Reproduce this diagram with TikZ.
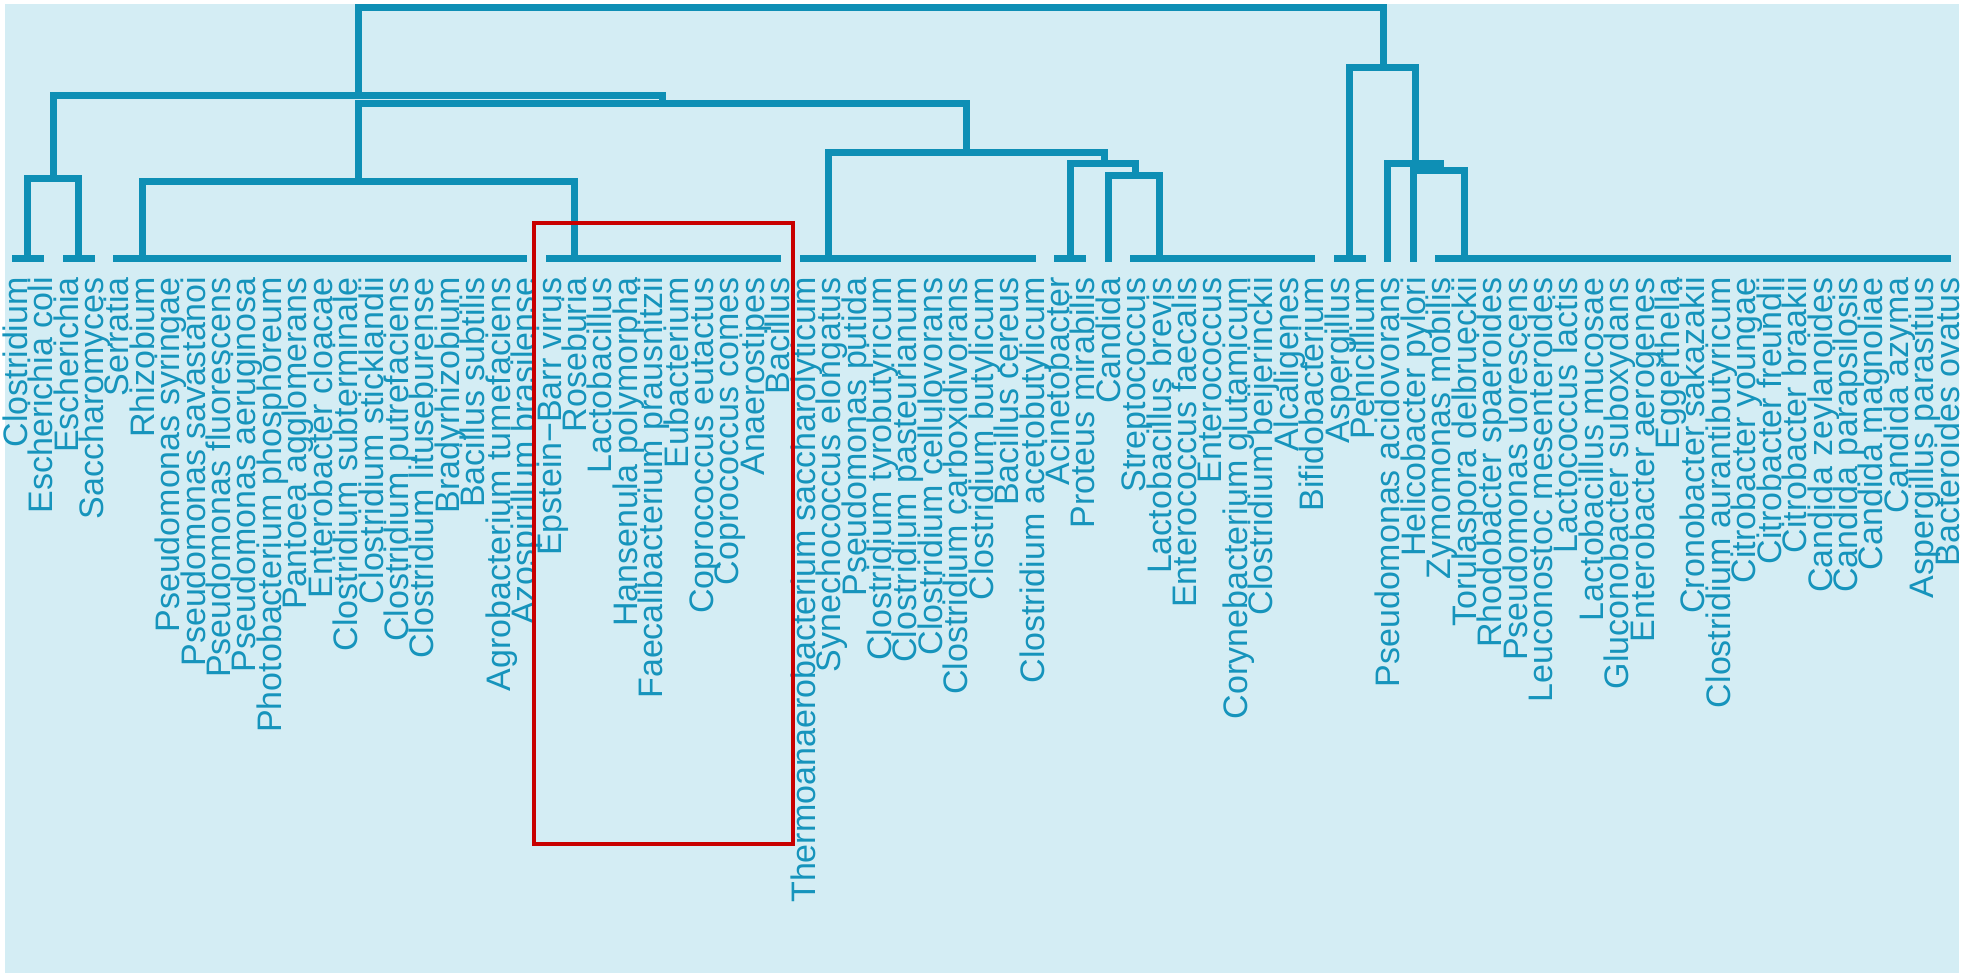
\documentclass[tikz,border=0pt]{standalone}
\usepackage{fontspec}
\setmainfont{Liberation Sans}
\usetikzlibrary{calc}
\definecolor{dendro}{RGB}{14,143,181}
\definecolor{dendrotext}{RGB}{22,148,188}
\definecolor{panel}{RGB}{212,237,244}
\definecolor{boxred}{RGB}{200,0,0}
\tikzset{
  branch/.style={draw=dendro, line width=7pt, line cap=rect, line join=miter},
  taxon/.style={rotate=90, anchor=east, inner sep=0pt, text height=24pt, text depth=0pt,
    text=dendrotext, font=\fontsize{34}{34}\selectfont},
}
\begin{document}
\begin{tikzpicture}[x=1pt, y=-1pt]
\useasboundingbox (0,0) rectangle (1969,975);
\fill[panel] (5,4) rectangle (1959,973);

% leaves on the base line
\foreach \i in {0,...,76}
  \coordinate (L\i) at ({15.2+25.42*\i},258);

% leaf labels
\foreach \taxname [count=\i from 0] in {Clostridium, Escherichia coli, Escherichia, Saccharomyces,
  Serratia, Rhizobium, Pseudomonas syringae, Pseudomonas savastanoi, Pseudomonas fluorescens,
  Pseudomonas aeruginosa, Photobacterium phosphoreum, Pantoea agglomerans, Enterobacter cloacae,
  Clostridium subterminale, Clostridium sticklandii, Clostridium putrefaciens,
  Clostridium lituseburense, Bradyrhizobium, Bacillus subtilis, Agrobacterium tumefaciens,
  Azospirillum brasilense, Epstein−Barr virus, Roseburia, Lactobacillus, Hansenula polymorpha,
  Faecalibacterium prausnitzii, Eubacterium, Coprococcus eutactus, Coprococcus comes,
  Anaerostipes, Bacillus, Thermoanaerobacterium saccharolyticum, Synechococcus elongatus,
  Pseudomonas putida, Clostridium tyrobutyricum, Clostridium pasteurianum,
  Clostridium cellulovorans, Clostridium carboxidivorans, Clostridium butylicum, Bacillus cereus,
  Clostridium acetobutylicum, Acinetobacter, Proteus mirabilis, Candida, Streptococcus,
  Lactobacillus brevis, Enterococcus faecalis, Enterococcus, Corynebacterium glutamicum,
  Clostridium beijerinckii, Alcaligenes, Bifidobacterium, Aspergillus, Penicillium,
  Pseudomonas acidovorans, Helicobacter pylori, Zymomonas mobilis, Torulaspora delbrueckii,
  Rhodobacter spaeroides, Pseudomonas uorescens, Leuconostoc mesenteroides, Lactococcus lactis,
  Lactobacillus mucosae, Gluconobacter suboxydans, Enterobacter aerogenes, Eggerthella,
  Cronobacter sakazakii, Clostridium aurantibutyricum, Citrobacter youngae, Citrobacter freundii,
  Citrobacter braakii, Candida zeylanoides, Candida parapsilosis, Candida magnoliae,
  Candida azyma, Aspergillus parasitius, Bacteroides ovatus}
  \node[taxon] (T\i) at ({15.2+25.42*\i},277) {\taxname};

% merge points
\coordinate (root)  at (871,7.5);
\coordinate (left)  at (358,95);
\coordinate (mid)   at (662.7,103);
\coordinate (esch)  at (53.2,178);
\coordinate (rhiz)  at (358.4,181.5);
\coordinate (cent)  at (966.5,152);
\coordinate (acin)  at (1104,163);
\coordinate (cand)  at (1135,175);
\coordinate (right) at (1383.5,67);
\coordinate (pseu)  at (1415,163);
\coordinate (heli)  at (1440,170);
\coordinate (e1) at ($(L0)!.5!(L1)$);
\coordinate (e2) at ($(L2)!.5!(L3)$);
\coordinate (a1) at ($(L41)!.5!(L42)$);
\coordinate (a2) at ($(L52)!.5!(L53)$);

% zero height groups
\draw[branch] (L0) -- (L1);
\draw[branch] (L2) -- (L3);
\draw[branch] (L4) -- (L20);
\draw[branch] (L21) -- (L30);
\draw[branch] (L31) -- (L40);
\draw[branch] (L41) -- (L42);
\draw[branch] (L44) -- (L51);
\draw[branch] (L52) -- (L53);
\draw[branch] (L56) -- (L76);

% branches
\draw[branch] (e1) |- (esch) -| (e2);
\draw[branch] (L5) |- (rhiz) -| (L22);
\draw[branch] (rhiz) |- (mid) -| (cent);
\draw[branch] (esch) |- (left) -| (mid);
\draw[branch] (L32) |- (cent) -| (acin);
\draw[branch] (a1) |- (acin) -| (cand);
\draw[branch] (L43) |- (cand) -| (L45);
\draw[branch] (a2) |- (right) -| (pseu);
\draw[branch] (L54) |- (pseu) -| (heli);
\draw[branch] (L55) |- (heli) -| (L57);
\draw[branch] (left) |- (root) -| (right);

% highlight box
\draw[boxred, line width=3.5pt] (534,223) rectangle (793,844);
\end{tikzpicture}
\end{document}
